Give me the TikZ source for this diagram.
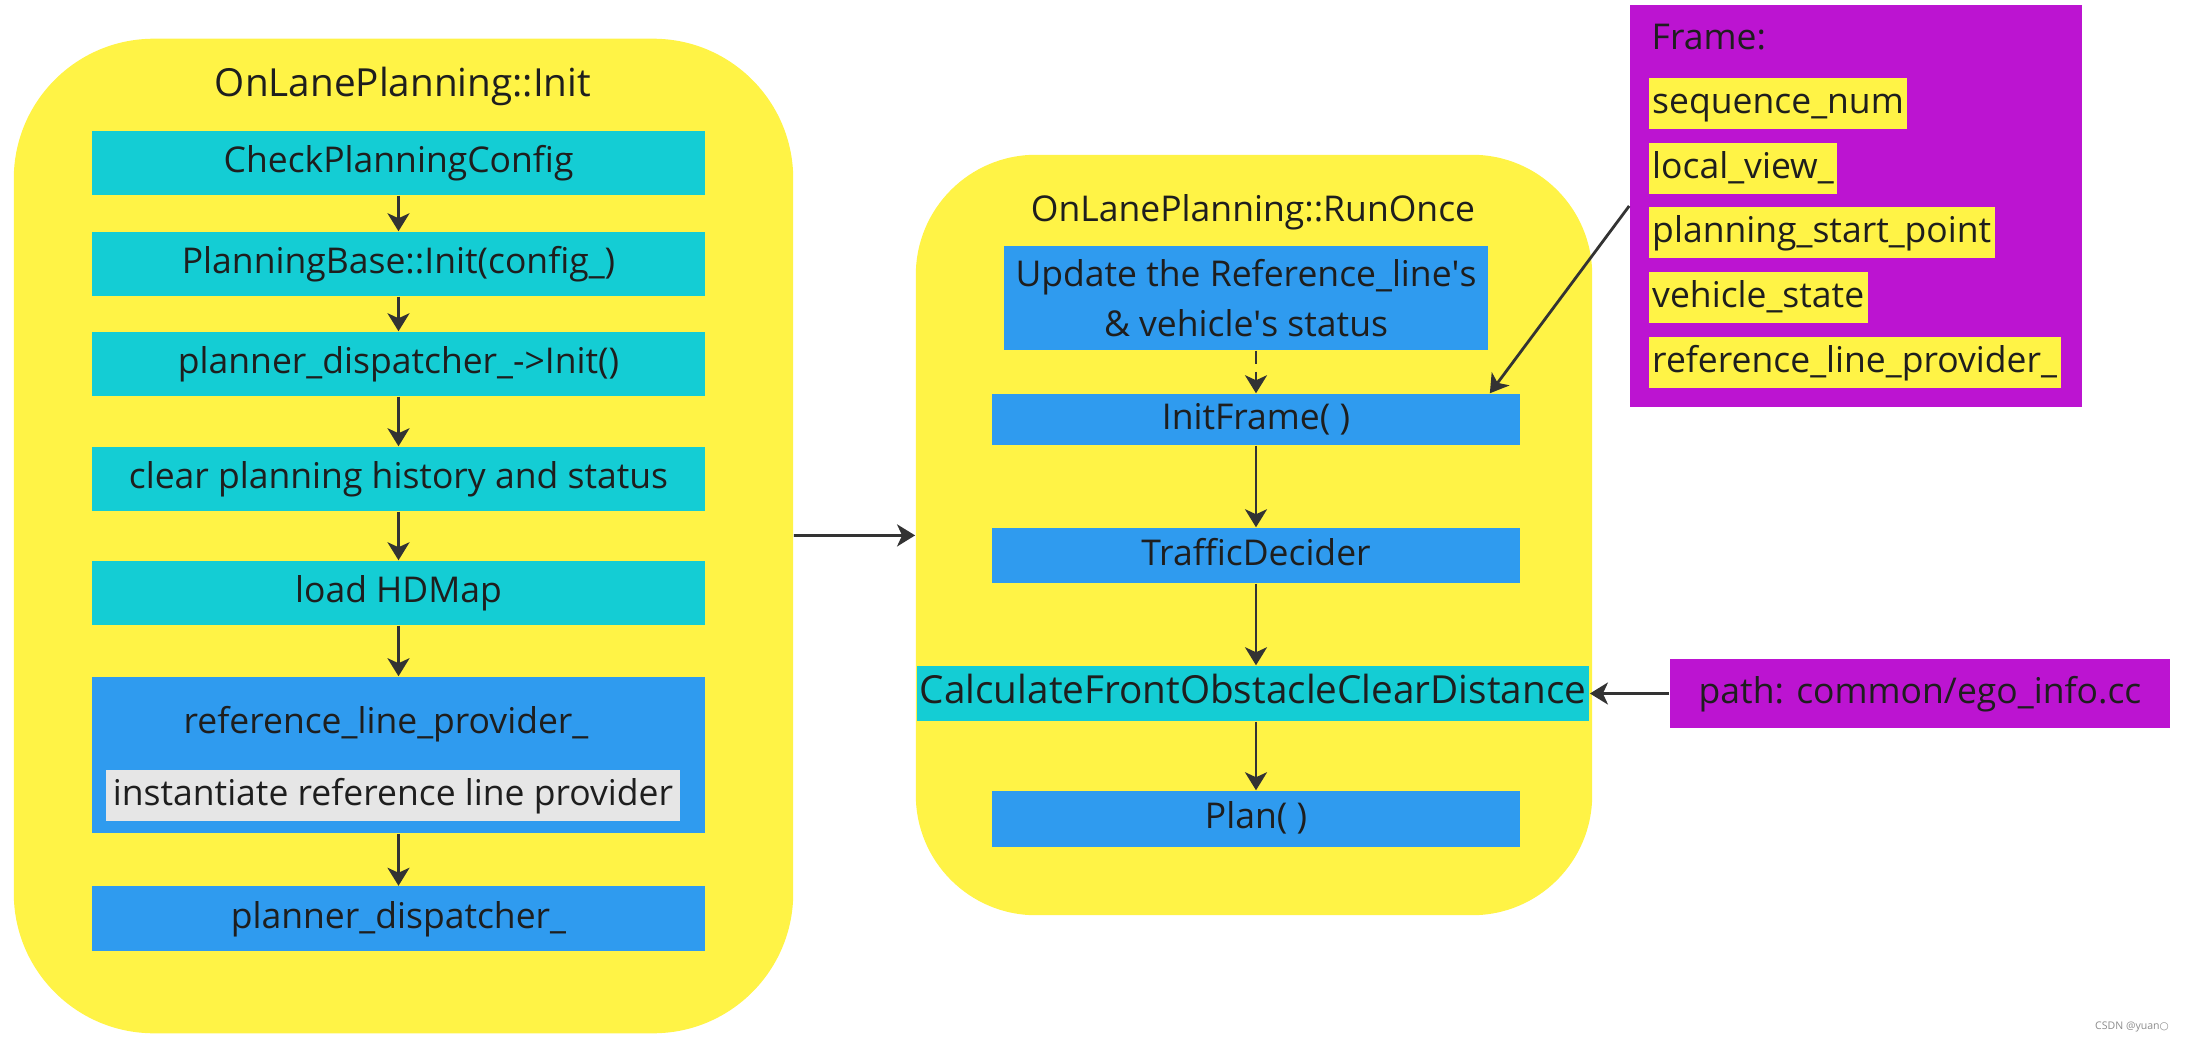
\documentclass[tikz,border=0pt]{standalone}
\usepackage{fontspec}
\setmainfont{Open Sans}
\newfontfamily\symfont{DejaVu Sans}
\usepackage{tikz}
\usetikzlibrary{arrows.meta}
\usepackage{xcolor}
\definecolor{grpcol}{RGB}{255,243,70}
\definecolor{cyancol}{RGB}{20,205,212}
\definecolor{bluecol}{RGB}{47,155,239}
\definecolor{magcol}{RGB}{188,20,209}
\definecolor{notecol}{RGB}{230,230,230}
\definecolor{txtcol}{RGB}{30,30,30}
\definecolor{arrcol}{RGB}{51,51,51}
\tikzset{
  % rounded yellow container
  groupbox/.style={rectangle, rounded corners=#1, fill=grpcol, inner sep=0pt},
  % container title
  grptitle/.style={anchor=base, text=txtcol, inner sep=0pt, font=\fontsize{#1}{12}\selectfont},
  grptitle/.default={10.1},
  % one-line step box
  stepbox/.style={rectangle, fill=#1, text=txtcol, inner sep=0pt, minimum height=0.64cm,
                  text height=0.27cm, text depth=0.08cm, font=\fontsize{10.1}{12}\selectfont},
  stepbox/.default={cyancol},
  % field highlight inside the frame box
  fieldbox/.style={rectangle, anchor=west, fill=grpcol, text=txtcol, inner xsep=1pt, inner ysep=0pt,
                   minimum height=0.51cm, text height=0.27cm, text depth=0.08cm,
                   font=\fontsize{10.1}{12}\selectfont},
  % flow arrow
  flowarrow/.style={-{Stealth[length=1.8mm,width=2.2mm,inset=0.5mm]}, line width=0.8pt, draw=arrcol},
}

\begin{document}
\begin{tikzpicture}[x=0.01cm, y=-0.01cm]
  \useasboundingbox (0,0) rectangle (2188,1043);
  % OnLanePlanning::Init
  \node[groupbox=1.4cm, minimum width=7.79cm, minimum height=9.94cm] (initc) at (403.5,536) {};
  \node[grptitle=11] (inittitle) at (403,97) {OnLanePlanning::Init};
  \node[stepbox, minimum width=6.13cm] (check) at (398.5,163) {CheckPlanningConfig};
  \node[stepbox, minimum width=6.13cm] (pbinit) at (398.5,264) {PlanningBase::Init(config\_)};
  \node[stepbox, minimum width=6.13cm] (pdinit) at (398.5,364) {planner\_dispatcher\_->Init()};
  \node[stepbox, minimum width=6.13cm] (clear) at (398.5,479) {clear planning history and status};
  \node[stepbox, minimum width=6.13cm] (hdmap) at (398.5,593) {load HDMap};
  \node[stepbox=bluecol, minimum width=6.13cm, minimum height=1.56cm] (refprov) at (398.5,755) {};
  \node[grptitle] (refname) at (386,733) {reference\_line\_provider\_};
  \node[stepbox=notecol, minimum width=5.74cm, minimum height=0.51cm] (refnote) at (393,795.5)
    {instantiate reference line provider};
  \node[stepbox=bluecol, minimum width=6.13cm] (pdisp) at (398.5,918.5) {planner\_dispatcher\_};
  \draw[flowarrow] (check) -- (pbinit);
  \draw[flowarrow] (pbinit) -- (pdinit);
  \draw[flowarrow] (pdinit) -- (clear);
  \draw[flowarrow] (clear) -- (hdmap);
  \draw[flowarrow] (hdmap) -- (refprov);
  \draw[flowarrow] (refprov) -- (pdisp);

  % OnLanePlanning::RunOnce
  \node[groupbox=1.2cm, minimum width=6.76cm, minimum height=7.60cm] (runc) at (1254,535) {};
  \node[grptitle] (runtitle) at (1253,222) {OnLanePlanning::RunOnce};
  \node[rectangle, fill=bluecol, text=txtcol, inner sep=0pt, minimum width=4.84cm, minimum height=1.04cm,
        align=center, font=\fontsize{10.1}{14.2}\selectfont] (update) at (1246,298)
    {Update the Reference\_line\textquotesingle s\\\& vehicle\textquotesingle s status};
  \node[stepbox=bluecol, minimum width=5.28cm, minimum height=0.51cm] (initframe) at (1256,419.5) {InitFrame( )};
  \node[stepbox=bluecol, minimum width=5.28cm, minimum height=0.55cm] (traffic) at (1256,555.5) {TrafficDecider};
  \node[stepbox, minimum width=6.72cm, minimum height=0.55cm, font=\fontsize{11}{12}\selectfont] (calc) at (1253,693.5)
    {CalculateFrontObstacleClearDistance};
  \node[stepbox=bluecol, minimum width=5.28cm, minimum height=0.56cm] (plan) at (1256,819) {Plan( )};
  \draw[flowarrow, dash pattern=on 0.13cm off 0.08cm] (update.south -| initframe.north) -- (initframe.north);
  \draw[flowarrow] (initframe) -- (traffic);
  \draw[flowarrow] (traffic.south) -- (traffic.south |- calc.north);
  \draw[flowarrow] (calc.south -| plan.north) -- (plan.north);
  \draw[flowarrow] (initc) -- (runc);

  % Frame members
  \node[rectangle, fill=magcol, minimum width=4.52cm, minimum height=4.01cm, inner sep=0pt] (frame) at (1856,206) {};
  \node[grptitle, anchor=base west] (frametitle) at (1651,50) {Frame:};
  \node[fieldbox] (seqnum) at (1648,103.5) {sequence\_num};
  \node[fieldbox] (localview) at (1648,168.5) {local\_view\_};
  \node[fieldbox] (startpt) at (1648,232.5) {planning\_start\_point};
  \node[fieldbox] (vstate) at (1648,297.5) {vehicle\_state};
  \node[fieldbox] (reflp) at (1648,362.5) {reference\_line\_provider\_};
  \draw[flowarrow] (frame.west) -- ([xshift=-0.31cm]initframe.north east);

  % source path
  \node[stepbox=magcol, minimum width=5.00cm, minimum height=0.69cm] (pathbox) at (1920,693.5)
    {path: common/ego\_info.cc};
  \draw[flowarrow] (pathbox) -- (calc);

  \node[text=black!45, inner sep=0pt, font=\fontsize{3}{3}\selectfont] (mark) at (2132,1027)
    {CSDN @yuan{\symfont ○}};
\end{tikzpicture}
\end{document}
